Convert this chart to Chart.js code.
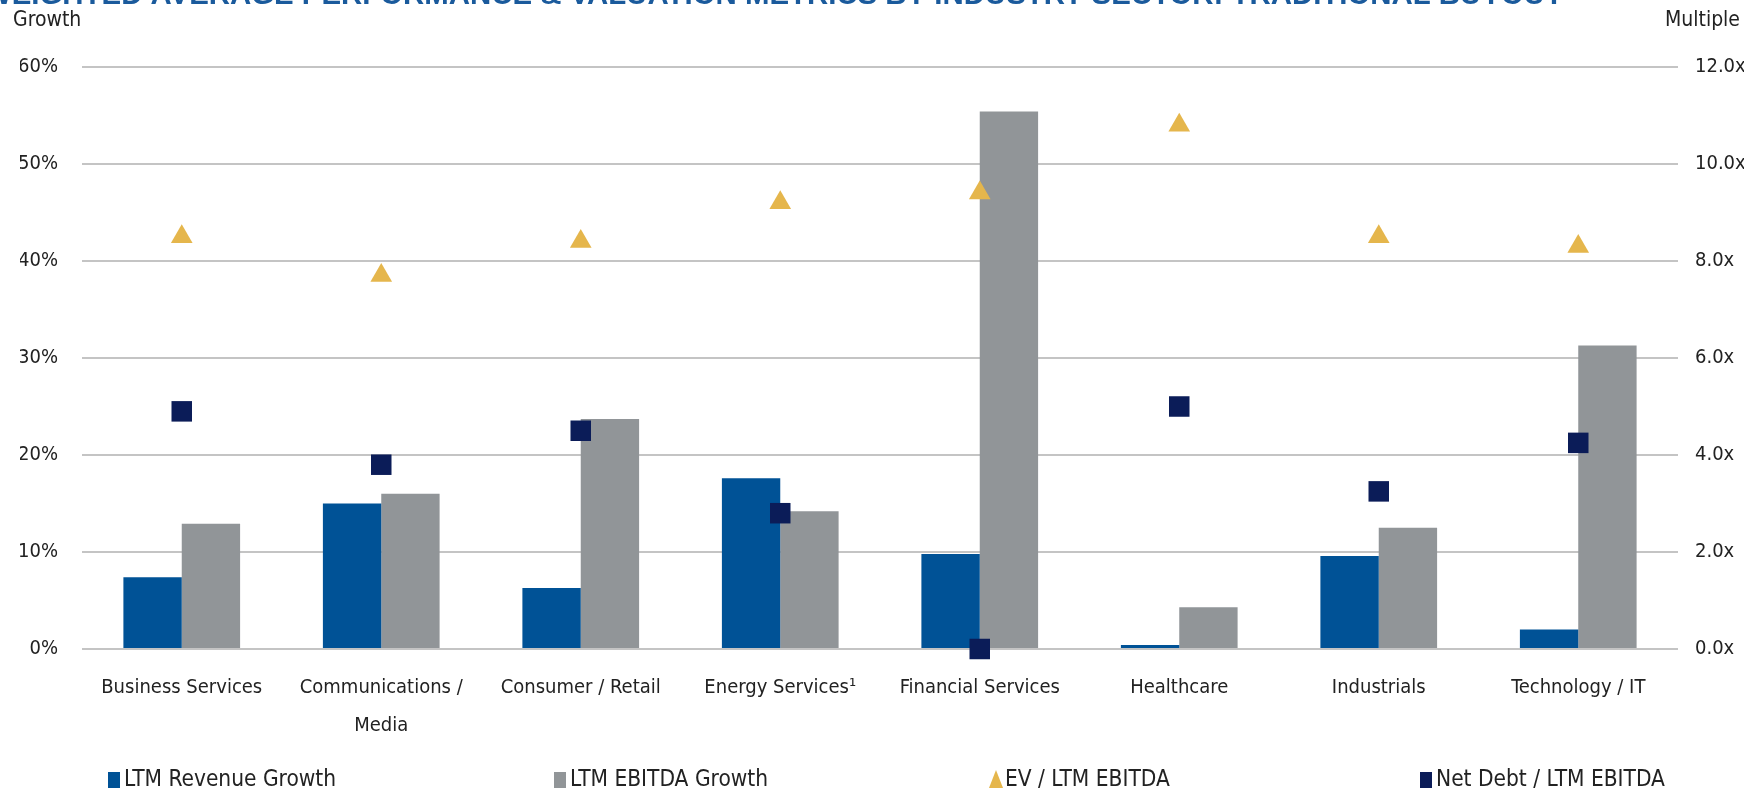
<!DOCTYPE html>
<html>
<head>
<meta charset="utf-8">
<script src="https://cdn.jsdelivr.net/npm/chart.js@4/dist/chart.umd.min.js"></script>
<style>
  html, body { margin: 0; padding: 0; background: #fff; }
  #wrap { width: 1745px; height: 788px; position: relative; }
</style>
</head>
<body>
<div id="wrap"><canvas id="chart"></canvas></div>
<script>
var FONT = "'Liberation Sans Narrow', 'Arial Narrow', 'DejaVu Sans Condensed', sans-serif";

var categories = ['Business Services', ['Communications /', 'Media'], 'Consumer / Retail', 'Energy Services\u00b9',
  'Financial Services', 'Healthcare', 'Industrials', 'Technology / IT'];
var revenueGrowth = [7.4, 15.0, 6.3, 17.6, 9.8, 0.4, 9.6, 2.0];
var ebitdaGrowth = [12.9, 16.0, 23.7, 14.2, 55.4, 4.3, 12.5, 31.3];
var evMultiple = [8.5, 7.7, 8.4, 9.2, 9.4, 10.8, 8.5, 8.3];
var netDebtMultiple = [4.9, 3.8, 4.5, 2.8, 0.0, 5.0, 3.25, 4.25];

var growthTicks = [0, 10, 20, 30, 40, 50, 60];
var multipleTicks = [0, 2, 4, 6, 8, 10, 12];

var title = 'WEIGHTED AVERAGE PERFORMANCE & VALUATION METRICS BY INDUSTRY SECTOR: TRADITIONAL BUYOUT';

// title (cut off at the top), axis captions and the spread-out legend
var extras = {
  id: 'extras',
  afterDraw: function(chart) {
    var ctx = chart.ctx;
    ctx.save();
    ctx.fillStyle = '#1a5a9c';
    ctx.font = "bold 26px 'Liberation Sans', Arial, sans-serif";
    var w = ctx.measureText(title).width;
    var size = 26 * 1580 / w;
    ctx.font = 'bold ' + size.toFixed(1) + "px 'Liberation Sans', Arial, sans-serif";
    ctx.textBaseline = 'alphabetic';
    ctx.textAlign = 'left';
    ctx.fillText(title, -16, 4);

    ctx.fillStyle = '#222';
    ctx.font = '21px ' + FONT;
    ctx.textBaseline = 'middle';
    ctx.fillText('Growth', 13, 21);
    ctx.textAlign = 'right';
    ctx.fillText('Multiple', 1740, 21);

    var items = [
      {x: 108, text: 'LTM Revenue Growth', color: '#005296', shape: 'rect'},
      {x: 554, text: 'LTM EBITDA Growth', color: '#919598', shape: 'rect'},
      {x: 989, text: 'EV / LTM EBITDA', color: '#e5b64c', shape: 'tri'},
      {x: 1420, text: 'Net Debt / LTM EBITDA', color: '#0b1c58', shape: 'rect'}
    ];
    var ly = 780;
    ctx.font = '22.5px ' + FONT;
    ctx.textAlign = 'left';
    items.forEach(function(it) {
      ctx.fillStyle = it.color;
      if (it.shape === 'rect') {
        ctx.fillRect(it.x, ly - 8, 12, 17);
      } else {
        ctx.beginPath();
        ctx.moveTo(it.x + 7, ly - 10);
        ctx.lineTo(it.x + 14, ly + 8);
        ctx.lineTo(it.x, ly + 8);
        ctx.closePath();
        ctx.fill();
      }
      ctx.fillStyle = '#222';
      ctx.fillText(it.text, it.x + 16, ly);
    });
    ctx.restore();
  }
};

new Chart(document.getElementById('chart'), {
  type: 'bar',
  data: {
    labels: categories,
    datasets: [{
        label: 'LTM Revenue Growth',
        data: revenueGrowth,
        backgroundColor: '#005296',
        yAxisID: 'y',
        order: 2
      }, {
        label: 'LTM EBITDA Growth',
        data: ebitdaGrowth,
        backgroundColor: '#919598',
        yAxisID: 'y',
        order: 2
      }, {
        type: 'line',
        label: 'EV / LTM EBITDA',
        data: evMultiple,
        yAxisID: 'y1',
        showLine: false,
        pointStyle: 'triangle',
        pointRadius: 12.5,
        pointBackgroundColor: '#e5b64c',
        pointBorderWidth: 0,
        clip: false,
        order: 1
      }, {
        type: 'line',
        label: 'Net Debt / LTM EBITDA',
        data: netDebtMultiple,
        yAxisID: 'y1',
        showLine: false,
        pointStyle: 'rect',
        pointRadius: 14.5,
        pointBackgroundColor: '#0b1c58',
        pointBorderWidth: 0,
        clip: false,
        order: 1
      }]
  },
  options: {
    responsive: true,
    maintainAspectRatio: false,
    animation: false,
    layout: {
      padding: { top: 67, left: 20, right: 1, bottom: 31 }
    },
    plugins: {
      legend: { display: false },
      tooltip: { enabled: false }
    },
    datasets: {
      bar: { categoryPercentage: 0.585, barPercentage: 1.0 }
    },
    scales: {
      x: {
        grid: { display: false },
        border: { display: false },
        ticks: {
          color: '#222',
          padding: 12,
          maxRotation: 0,
          autoSkip: false,
          font: { family: FONT, size: 20, lineHeight: 1.9 }
        }
      },
      y: {
        position: 'left',
        min: 0,
        max: 60,
        afterBuildTicks: function(axis) {
          axis.ticks = growthTicks.map(function(v) { return {value: v}; });
        },
        afterFit: function(axis) { axis.width = 62; },
        grid: { color: '#c4c4c4', lineWidth: 2, drawTicks: false },
        border: { display: false },
        ticks: {
          color: '#222',
          padding: 24,
          font: { family: FONT, size: 20 },
          callback: function(v) { return v + '%'; }
        }
      },
      y1: {
        position: 'right',
        min: 0,
        max: 12,
        afterBuildTicks: function(axis) {
          axis.ticks = multipleTicks.map(function(v) { return {value: v}; });
        },
        afterFit: function(axis) { axis.width = 66; },
        grid: { display: false, drawTicks: false },
        border: { display: false },
        ticks: {
          color: '#222',
          padding: 17,
          font: { family: FONT, size: 20 },
          callback: function(v) { return v.toFixed(1) + 'x'; }
        }
      }
    }
  },
  plugins: [extras]
});
</script>
</body>
</html>
